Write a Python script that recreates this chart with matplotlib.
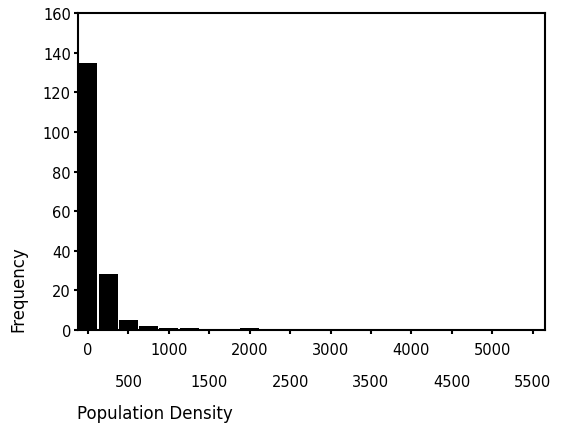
import matplotlib
matplotlib.use("Agg")
import matplotlib.pyplot as plt

bin_centers = [0, 250, 500, 750, 1000, 1250, 1500, 1750, 2000]
frequencies = [135, 28, 5, 2, 1, 1, 0, 0, 1]
major_ticks = [0, 1000, 2000, 3000, 4000, 5000]
minor_ticks = [500, 1500, 2500, 3500, 4500, 5500]
y_ticks = [0, 20, 40, 60, 80, 100, 120, 140, 160]

fig = plt.figure(figsize=(5.64, 4.27), dpi=100)
ax = fig.add_axes([0.138, 0.225, 0.828, 0.742])
ax.bar(bin_centers, frequencies, width=235, color="black", align="center")
ax.set_xlim(-125, 5650)
ax.set_ylim(0, 160)
ax.set_yticks(y_ticks)
ax.set_xticks(major_ticks)
ax.set_xticks(minor_ticks, minor=True)
ax.set_xticklabels([str(t) for t in major_ticks])
ax.set_xticklabels([str(t) for t in minor_ticks], minor=True)
for sp in ax.spines.values():
    sp.set_linewidth(1.5)
ax.tick_params(axis="both", which="both", direction="out", length=3, width=1.5, labelsize=10.5)
ax.tick_params(axis="x", which="major", pad=6)
ax.tick_params(axis="x", which="minor", pad=29)
ax.tick_params(axis="y", pad=2)

fig.text(0.033, 0.323, "Frequency", rotation=90, ha="center", va="center", fontsize=12)
fig.text(0.137, 0.031, "Population Density", ha="left", va="center", fontsize=12)

fig.savefig("out.png", dpi=100)
